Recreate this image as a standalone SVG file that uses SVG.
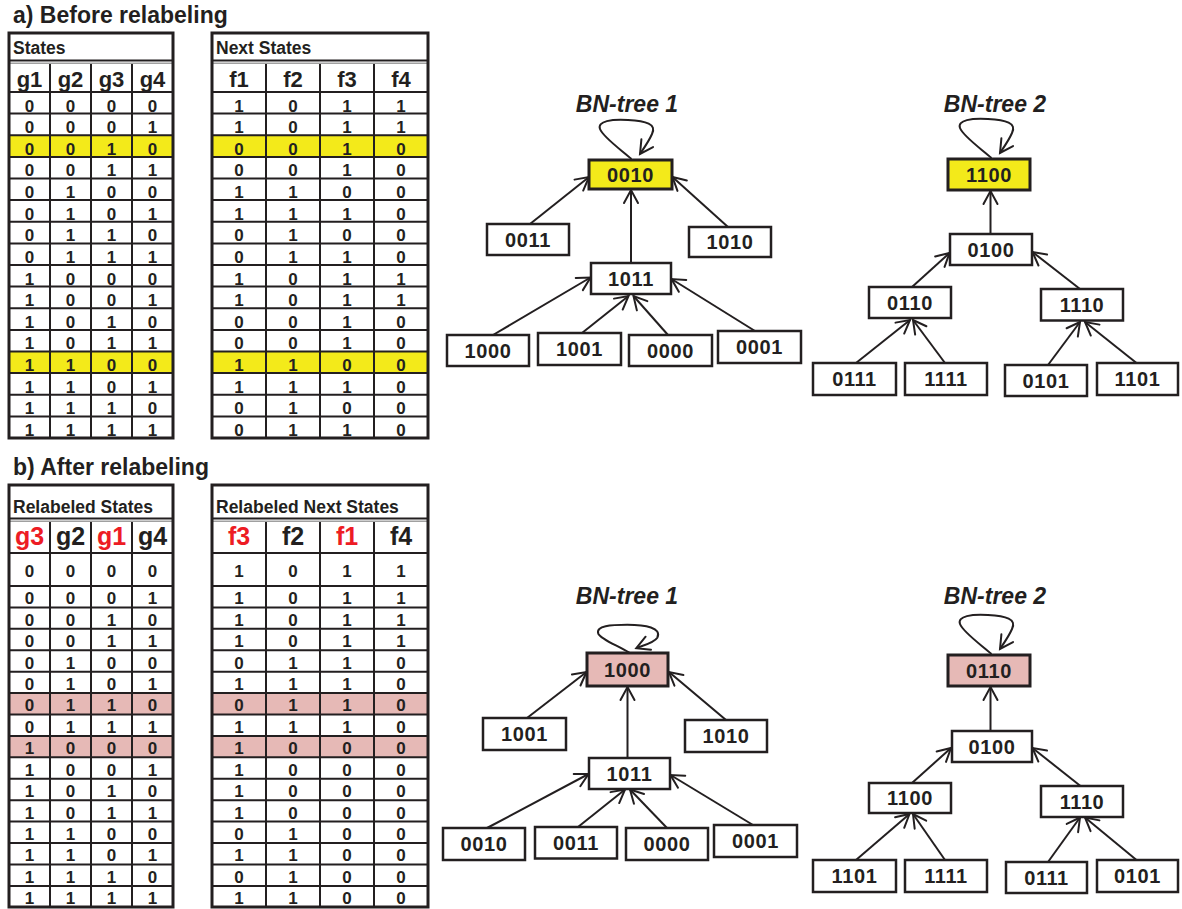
<svg xmlns="http://www.w3.org/2000/svg" width="1182" height="909" viewBox="0 0 1182 909">
  <style>
    .frame { fill: none; stroke: #231f20; stroke-width: 3; }
    .grid { fill: none; stroke: #231f20; stroke-width: 2; }
    .sep2 { fill: none; stroke: #a0a0a0; stroke-width: 1.5; }
    .title { font-family: "Liberation Sans", Arial, sans-serif; font-weight: bold; font-size: 23px; fill: #231f20; }
    .cap { font-family: "Liberation Sans", Arial, sans-serif; font-weight: bold; font-size: 17.5px; fill: #231f20; }
    .hdr { font-family: "Liberation Sans", Arial, sans-serif; font-weight: bold; fill: #231f20; text-anchor: middle; }
    .h21 { font-size: 22px; }
    .h24 { font-size: 25px; }
    .red { fill: #ed1c24; }
    .cell { font-family: "Liberation Sans", Arial, sans-serif; font-weight: bold; font-size: 17px; fill: #231f20; text-anchor: middle; }
    .yel { fill: #f3ea1a; }
    .pink { fill: #e6b9b6; }
    .node rect { fill: #ffffff; stroke: #231f20; stroke-width: 2.5; }
    .node.root rect { stroke-width: 3; }
    .node.root-y rect { fill: #f3ea1a; }
    .node.root-p rect { fill: #e6b9b6; }
    .node text { font-family: "Liberation Sans", Arial, sans-serif; font-weight: bold; font-size: 20px; letter-spacing: 0.6px; fill: #231f20; text-anchor: middle; }
    .ttl { font-family: "Liberation Sans", Arial, sans-serif; font-weight: bold; font-style: italic; font-size: 23px; fill: #231f20; text-anchor: middle; }
    .edge { fill: none; stroke: #231f20; stroke-width: 2; marker-end: url(#ah); }
  </style>
  <defs>
    <marker id="ah" markerUnits="userSpaceOnUse" orient="auto" overflow="visible" markerWidth="1" markerHeight="1">
      <path d="M-13,-7 L0,0 L-13,7" fill="none" stroke="#231f20" stroke-width="2" stroke-linecap="round"/>
    </marker>
    <path id="loop" d="M0,0 C-11.5,-10 -28.5,-22 -31.5,-30 C-34.5,-38 -19.5,-40 -3.5,-39 C14.5,-38 25.5,-35 20.5,-25 C17.5,-18 12.5,-11 8.5,-5"/>
  </defs>
  <rect width="1182" height="909" fill="#ffffff"/>

  <!-- ===== a) Before relabeling ===== -->
  <text class="title" x="13" y="23">a) Before relabeling</text>

  <g id="states-a">
    <rect class="yel" x="9" y="135.25" width="164" height="21.65"/>
    <rect class="yel" x="9" y="351.5" width="164" height="21.6"/>
    <path class="grid" d="M9,60.5H173 M9,92H173 M9,113.6H173 M9,135.25H173 M9,156.9H173 M9,178.5H173 M9,200.1H173 M9,221.75H173 M9,243.4H173 M9,265H173 M9,286.6H173 M9,308.25H173 M9,329.9H173 M9,351.5H173 M9,373.1H173 M9,394.75H173 M9,416.4H173 M50,63V438 M91,63V438 M132,63V438"/>
    <path class="sep2" d="M10,63.2H172"/>
    <rect class="frame" x="9" y="33" width="164" height="405"/>
    <text class="cap" x="13" y="54">States</text>
    <text class="hdr h21" x="29.5" y="86.5">g1</text>
    <text class="hdr h21" x="70.5" y="86.5">g2</text>
    <text class="hdr h21" x="111.5" y="86.5">g3</text>
    <text class="hdr h21" x="152.5" y="86.5">g4</text>
    <text class="cell" x="29.5 70.5 111.5 152.5" y="111.5">0000</text>
    <text class="cell" x="29.5 70.5 111.5 152.5" y="133.1">0001</text>
    <text class="cell" x="29.5 70.5 111.5 152.5" y="154.75">0010</text>
    <text class="cell" x="29.5 70.5 111.5 152.5" y="176.4">0011</text>
    <text class="cell" x="29.5 70.5 111.5 152.5" y="198">0100</text>
    <text class="cell" x="29.5 70.5 111.5 152.5" y="219.6">0101</text>
    <text class="cell" x="29.5 70.5 111.5 152.5" y="241.25">0110</text>
    <text class="cell" x="29.5 70.5 111.5 152.5" y="262.9">0111</text>
    <text class="cell" x="29.5 70.5 111.5 152.5" y="284.5">1000</text>
    <text class="cell" x="29.5 70.5 111.5 152.5" y="306.1">1001</text>
    <text class="cell" x="29.5 70.5 111.5 152.5" y="327.75">1010</text>
    <text class="cell" x="29.5 70.5 111.5 152.5" y="349.4">1011</text>
    <text class="cell" x="29.5 70.5 111.5 152.5" y="371">1100</text>
    <text class="cell" x="29.5 70.5 111.5 152.5" y="392.6">1101</text>
    <text class="cell" x="29.5 70.5 111.5 152.5" y="414.25">1110</text>
    <text class="cell" x="29.5 70.5 111.5 152.5" y="435.9">1111</text>
  </g>

  <g id="next-a">
    <rect class="yel" x="212" y="135.25" width="216" height="21.65"/>
    <rect class="yel" x="212" y="351.5" width="216" height="21.6"/>
    <path class="grid" d="M212,60.5H428 M212,92H428 M212,113.6H428 M212,135.25H428 M212,156.9H428 M212,178.5H428 M212,200.1H428 M212,221.75H428 M212,243.4H428 M212,265H428 M212,286.6H428 M212,308.25H428 M212,329.9H428 M212,351.5H428 M212,373.1H428 M212,394.75H428 M212,416.4H428 M266,63V438 M320,63V438 M374,63V438"/>
    <path class="sep2" d="M213,63.2H427"/>
    <rect class="frame" x="212" y="33" width="216" height="405"/>
    <text class="cap" x="216" y="54">Next States</text>
    <text class="hdr h21" x="239" y="86.5">f1</text>
    <text class="hdr h21" x="293" y="86.5">f2</text>
    <text class="hdr h21" x="347" y="86.5">f3</text>
    <text class="hdr h21" x="401" y="86.5">f4</text>
    <text class="cell" x="239 293 347 401" y="111.5">1011</text>
    <text class="cell" x="239 293 347 401" y="133.1">1011</text>
    <text class="cell" x="239 293 347 401" y="154.75">0010</text>
    <text class="cell" x="239 293 347 401" y="176.4">0010</text>
    <text class="cell" x="239 293 347 401" y="198">1100</text>
    <text class="cell" x="239 293 347 401" y="219.6">1110</text>
    <text class="cell" x="239 293 347 401" y="241.25">0100</text>
    <text class="cell" x="239 293 347 401" y="262.9">0110</text>
    <text class="cell" x="239 293 347 401" y="284.5">1011</text>
    <text class="cell" x="239 293 347 401" y="306.1">1011</text>
    <text class="cell" x="239 293 347 401" y="327.75">0010</text>
    <text class="cell" x="239 293 347 401" y="349.4">0010</text>
    <text class="cell" x="239 293 347 401" y="371">1100</text>
    <text class="cell" x="239 293 347 401" y="392.6">1110</text>
    <text class="cell" x="239 293 347 401" y="414.25">0100</text>
    <text class="cell" x="239 293 347 401" y="435.9">0110</text>
  </g>

  <!-- ===== b) After relabeling ===== -->
  <text class="title" x="13" y="475">b) After relabeling</text>

  <g id="states-b">
    <rect class="pink" x="9" y="693.1" width="164" height="21.42"/>
    <rect class="pink" x="9" y="735.94" width="164" height="21.42"/>
    <path class="grid" d="M9,518.5H173 M9,553H173 M9,586H173 M9,607.42H173 M9,628.84H173 M9,650.26H173 M9,671.68H173 M9,693.1H173 M9,714.52H173 M9,735.94H173 M9,757.36H173 M9,778.78H173 M9,800.2H173 M9,821.62H173 M9,843.04H173 M9,864.46H173 M9,885.88H173 M50,521V907 M91,521V907 M132,521V907"/>
    <path class="sep2" d="M10,521.2H172"/>
    <rect class="frame" x="9" y="485" width="164" height="422"/>
    <text class="cap" x="13" y="512.7">Relabeled States</text>
    <text class="hdr h24 red" x="29.5" y="545">g3</text>
    <text class="hdr h24" x="70.5" y="545">g2</text>
    <text class="hdr h24 red" x="111.5" y="545">g1</text>
    <text class="hdr h24" x="152.5" y="545">g4</text>
    <text class="cell" x="29.5 70.5 111.5 152.5" y="577">0000</text>
    <text class="cell" x="29.5 70.5 111.5 152.5" y="604.3">0001</text>
    <text class="cell" x="29.5 70.5 111.5 152.5" y="625.7">0010</text>
    <text class="cell" x="29.5 70.5 111.5 152.5" y="647.1">0011</text>
    <text class="cell" x="29.5 70.5 111.5 152.5" y="668.6">0100</text>
    <text class="cell" x="29.5 70.5 111.5 152.5" y="690">0101</text>
    <text class="cell" x="29.5 70.5 111.5 152.5" y="711.4">0110</text>
    <text class="cell" x="29.5 70.5 111.5 152.5" y="732.8">0111</text>
    <text class="cell" x="29.5 70.5 111.5 152.5" y="754.2">1000</text>
    <text class="cell" x="29.5 70.5 111.5 152.5" y="775.7">1001</text>
    <text class="cell" x="29.5 70.5 111.5 152.5" y="797.1">1010</text>
    <text class="cell" x="29.5 70.5 111.5 152.5" y="818.5">1011</text>
    <text class="cell" x="29.5 70.5 111.5 152.5" y="839.9">1100</text>
    <text class="cell" x="29.5 70.5 111.5 152.5" y="861.3">1101</text>
    <text class="cell" x="29.5 70.5 111.5 152.5" y="882.8">1110</text>
    <text class="cell" x="29.5 70.5 111.5 152.5" y="904.2">1111</text>
  </g>

  <g id="next-b">
    <rect class="pink" x="212" y="693.1" width="216" height="21.42"/>
    <rect class="pink" x="212" y="735.94" width="216" height="21.42"/>
    <path class="grid" d="M212,518.5H428 M212,553H428 M212,586H428 M212,607.42H428 M212,628.84H428 M212,650.26H428 M212,671.68H428 M212,693.1H428 M212,714.52H428 M212,735.94H428 M212,757.36H428 M212,778.78H428 M212,800.2H428 M212,821.62H428 M212,843.04H428 M212,864.46H428 M212,885.88H428 M266,521V907 M320,521V907 M374,521V907"/>
    <path class="sep2" d="M213,521.2H427"/>
    <rect class="frame" x="212" y="485" width="216" height="422"/>
    <text class="cap" x="216" y="512.7">Relabeled Next States</text>
    <text class="hdr h24 red" x="239" y="545">f3</text>
    <text class="hdr h24" x="293" y="545">f2</text>
    <text class="hdr h24 red" x="347" y="545">f1</text>
    <text class="hdr h24" x="401" y="545">f4</text>
    <text class="cell" x="239 293 347 401" y="577">1011</text>
    <text class="cell" x="239 293 347 401" y="604.3">1011</text>
    <text class="cell" x="239 293 347 401" y="625.7">1011</text>
    <text class="cell" x="239 293 347 401" y="647.1">1011</text>
    <text class="cell" x="239 293 347 401" y="668.6">0110</text>
    <text class="cell" x="239 293 347 401" y="690">1110</text>
    <text class="cell" x="239 293 347 401" y="711.4">0110</text>
    <text class="cell" x="239 293 347 401" y="732.8">1110</text>
    <text class="cell" x="239 293 347 401" y="754.2">1000</text>
    <text class="cell" x="239 293 347 401" y="775.7">1000</text>
    <text class="cell" x="239 293 347 401" y="797.1">1000</text>
    <text class="cell" x="239 293 347 401" y="818.5">1000</text>
    <text class="cell" x="239 293 347 401" y="839.9">0100</text>
    <text class="cell" x="239 293 347 401" y="861.3">1100</text>
    <text class="cell" x="239 293 347 401" y="882.8">0100</text>
    <text class="cell" x="239 293 347 401" y="904.2">1100</text>
  </g>

  <!-- ===== tree titles ===== -->
  <text class="ttl" x="627" y="111.7">BN-tree 1</text>
  <text class="ttl" x="995" y="112.3">BN-tree 2</text>
  <text class="ttl" x="627" y="604.3">BN-tree 1</text>
  <text class="ttl" x="995" y="604.3">BN-tree 2</text>

  <!-- ===== connectors ===== -->
  <g id="connectors">
    <!-- a) tree 1 -->
    <use href="#loop" class="edge" transform="translate(631.5,159)"/>
    <line class="edge" x1="530" y1="224" x2="589" y2="177"/>
    <line class="edge" x1="728" y1="227" x2="672.5" y2="177"/>
    <line class="edge" x1="631" y1="263" x2="631" y2="190"/>
    <line class="edge" x1="493" y1="335" x2="590.5" y2="277.5"/>
    <line class="edge" x1="582" y1="333" x2="628.5" y2="296"/>
    <line class="edge" x1="668" y1="335" x2="633.5" y2="296"/>
    <line class="edge" x1="755" y1="331" x2="671.5" y2="279"/>
    <!-- a) tree 2 -->
    <use href="#loop" class="edge" transform="translate(991.5,158)"/>
    <line class="edge" x1="990.5" y1="234" x2="990.5" y2="191"/>
    <line class="edge" x1="912" y1="287" x2="949.5" y2="253"/>
    <line class="edge" x1="1080" y1="289" x2="1032.5" y2="252"/>
    <line class="edge" x1="856" y1="363" x2="910" y2="320"/>
    <line class="edge" x1="945" y1="363" x2="913" y2="320"/>
    <line class="edge" x1="1048" y1="365" x2="1080" y2="322"/>
    <line class="edge" x1="1136.5" y1="363" x2="1085" y2="322"/>
    <!-- b) tree 1 -->
    <path class="edge" transform="translate(629.3,652.7)" d="M0,0 C-11,-7 -28,-13 -31,-19 C-34,-27 -18,-28 -2,-28 C16,-28 33,-25 28,-15 C25,-10 13,-7 7,-4.5"/>
    <line class="edge" x1="527" y1="718" x2="586.5" y2="672"/>
    <line class="edge" x1="726" y1="720" x2="669" y2="672"/>
    <line class="edge" x1="627.5" y1="758" x2="627.5" y2="687"/>
    <line class="edge" x1="487" y1="828" x2="588.5" y2="774"/>
    <line class="edge" x1="578" y1="827" x2="625" y2="789.5"/>
    <line class="edge" x1="667" y1="828" x2="630" y2="789.5"/>
    <line class="edge" x1="753" y1="825" x2="670.5" y2="775"/>
    <!-- b) tree 2 -->
    <use href="#loop" class="edge" transform="translate(991.5,654)"/>
    <line class="edge" x1="990.5" y1="731" x2="990.5" y2="687"/>
    <line class="edge" x1="912" y1="783" x2="951" y2="748"/>
    <line class="edge" x1="1080.5" y1="786" x2="1032.5" y2="748"/>
    <line class="edge" x1="856" y1="860" x2="909.5" y2="814"/>
    <line class="edge" x1="945" y1="860" x2="913" y2="814"/>
    <line class="edge" x1="1048" y1="862" x2="1080" y2="817.5"/>
    <line class="edge" x1="1136.5" y1="860" x2="1085" y2="817.5"/>
  </g>

  <!-- ===== a) tree 1 nodes ===== -->
  <g id="a1-0010" class="node root root-y"><rect x="589" y="160" width="83" height="29"/><text x="630.5" y="181.5">0010</text></g>
  <g id="a1-0011" class="node"><rect x="487" y="224" width="82" height="31"/><text x="528" y="246.5">0011</text></g>
  <g id="a1-1010" class="node"><rect x="689" y="227" width="82" height="30"/><text x="730" y="249">1010</text></g>
  <g id="a1-1011" class="node"><rect x="591" y="263" width="80" height="31"/><text x="631" y="285.5">1011</text></g>
  <g id="a1-1000" class="node"><rect x="447" y="335" width="82" height="31"/><text x="488" y="357.5">1000</text></g>
  <g id="a1-1001" class="node"><rect x="538" y="333" width="83" height="32"/><text x="579.5" y="356">1001</text></g>
  <g id="a1-0000" class="node"><rect x="629" y="335" width="83" height="31"/><text x="670.5" y="357.5">0000</text></g>
  <g id="a1-0001" class="node"><rect x="718" y="331" width="83" height="32"/><text x="759.5" y="354">0001</text></g>

  <!-- ===== a) tree 2 nodes ===== -->
  <g id="a2-1100" class="node root root-y"><rect x="948" y="159" width="82" height="31"/><text x="989" y="181.5">1100</text></g>
  <g id="a2-0100" class="node"><rect x="950" y="234" width="82" height="31"/><text x="991" y="256.5">0100</text></g>
  <g id="a2-0110" class="node"><rect x="869" y="287" width="82" height="31"/><text x="910" y="309.5">0110</text></g>
  <g id="a2-1110" class="node"><rect x="1041" y="289" width="82" height="31.5"/><text x="1082" y="311.5">1110</text></g>
  <g id="a2-0111" class="node"><rect x="813" y="363" width="83" height="32"/><text x="854.5" y="386">0111</text></g>
  <g id="a2-1111" class="node"><rect x="905" y="363" width="82" height="32"/><text x="946" y="386">1111</text></g>
  <g id="a2-0101" class="node"><rect x="1005" y="365" width="82" height="31"/><text x="1046" y="387.5">0101</text></g>
  <g id="a2-1101" class="node"><rect x="1097" y="363" width="81" height="32"/><text x="1137.5" y="386">1101</text></g>

  <!-- ===== b) tree 1 nodes ===== -->
  <g id="b1-1000" class="node root root-p"><rect x="587" y="653" width="81" height="33"/><text x="627.5" y="676.5">1000</text></g>
  <g id="b1-1001" class="node"><rect x="483" y="718" width="83" height="32"/><text x="524.5" y="741">1001</text></g>
  <g id="b1-1010" class="node"><rect x="685" y="720" width="82" height="32"/><text x="726" y="743">1010</text></g>
  <g id="b1-1011" class="node"><rect x="589" y="758" width="81" height="31"/><text x="629.5" y="780.5">1011</text></g>
  <g id="b1-0010" class="node"><rect x="443" y="828" width="82" height="32"/><text x="484" y="851">0010</text></g>
  <g id="b1-0011" class="node"><rect x="535" y="827" width="82" height="31.5"/><text x="576" y="849.5">0011</text></g>
  <g id="b1-0000" class="node"><rect x="626" y="828" width="82" height="32"/><text x="667" y="851">0000</text></g>
  <g id="b1-0001" class="node"><rect x="714" y="825" width="83" height="32"/><text x="755.5" y="848">0001</text></g>

  <!-- ===== b) tree 2 nodes ===== -->
  <g id="b2-0110" class="node root root-p"><rect x="948" y="655" width="82" height="31"/><text x="989" y="677.5">0110</text></g>
  <g id="b2-0100" class="node"><rect x="952" y="731" width="80" height="31"/><text x="992" y="753.5">0100</text></g>
  <g id="b2-1100" class="node"><rect x="869" y="783" width="82" height="30"/><text x="910" y="805">1100</text></g>
  <g id="b2-1110" class="node"><rect x="1041" y="786" width="82" height="31"/><text x="1082" y="808.5">1110</text></g>
  <g id="b2-1101" class="node"><rect x="813" y="860" width="83" height="32"/><text x="854.5" y="883">1101</text></g>
  <g id="b2-1111" class="node"><rect x="905" y="860" width="82" height="32"/><text x="946" y="883">1111</text></g>
  <g id="b2-0111" class="node"><rect x="1006" y="862" width="81" height="31"/><text x="1046.5" y="884.5">0111</text></g>
  <g id="b2-0101" class="node"><rect x="1097" y="860" width="81" height="32"/><text x="1137.5" y="883">0101</text></g>
</svg>
